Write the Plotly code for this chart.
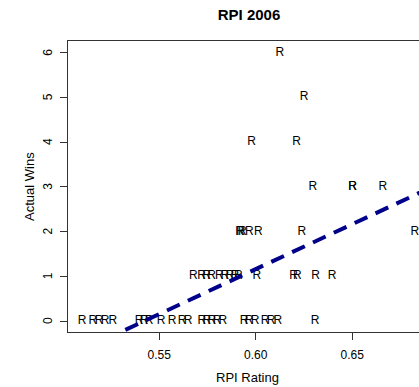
import plotly.graph_objects as go

# RPI rating of teams by number of tournament wins
rpi_wins0 = [0.5100, 0.5156, 0.5188, 0.5219, 0.5260, 0.5395, 0.5421, 0.5447,
             0.5509, 0.5566, 0.5618, 0.5649, 0.5721, 0.5747, 0.5773, 0.5799,
             0.5830, 0.5939, 0.5965, 0.5996, 0.6048, 0.6079, 0.6115, 0.6307]
rpi_wins1 = [0.5676, 0.5719, 0.5745, 0.5771, 0.5811, 0.5840, 0.5866, 0.5892,
             0.5910, 0.6006, 0.6196, 0.6216, 0.6310, 0.6395]
rpi_wins2 = [0.5916, 0.5921, 0.5931, 0.5967, 0.6014, 0.6239, 0.6825]
rpi_wins3 = [0.6296, 0.6502, 0.6502, 0.6658]
rpi_wins4 = [0.5979, 0.6212]
rpi_wins5 = [0.6250]
rpi_wins6 = [0.6125]

# fitted regression line: wins = intercept + slope * rpi
fit_intercept = -10.90
fit_slope = 20.1

x_ticks = [0.55, 0.60, 0.65]
x_tick_labels = ["0.55", "0.60", "0.65"]
y_ticks = [0, 1, 2, 3, 4, 5, 6]
y_tick_labels = ["0", "1", "2", "3", "4", "5", "6"]

groups = [rpi_wins0, rpi_wins1, rpi_wins2, rpi_wins3, rpi_wins4, rpi_wins5, rpi_wins6]
xs, ys = [], []
for w, g in enumerate(groups):
    xs += g
    ys += [w] * len(g)

fig = go.Figure()
fig.add_trace(go.Scatter(
    x=xs, y=ys, mode="text", text=["R"] * len(xs),
    textposition="middle center",
    textfont=dict(family="Liberation Sans, Arial, sans-serif", size=12, color="#000"),
    hoverinfo="skip", showlegend=False, cliponaxis=True))

line_x = [0.50, 0.70]
line_y = [fit_intercept + fit_slope * v for v in line_x]
fig.add_trace(go.Scatter(
    x=line_x, y=line_y, mode="lines",
    line=dict(color="#00008B", width=4, dash="14px,9px"),
    hoverinfo="skip", showlegend=False))

font_main = "Liberation Sans, Arial, sans-serif"

# rotated y tick labels (R style), placed on the y axis scale
ytick_annotations = [
    dict(text=lab, xref="paper", yref="y", x=(48 - 68) / 351, y=val,
         xanchor="center", yanchor="middle", textangle=-90, showarrow=False,
         font=dict(size=12, color="#000"))
    for val, lab in zip(y_ticks, y_tick_labels)
]

fig.update_layout(
    width=419, height=387,
    margin=dict(l=68, r=0, t=41, b=55),
    plot_bgcolor="white", paper_bgcolor="white",
    font=dict(family=font_main, color="#000"),
    title=dict(text="<b>RPI 2006</b>", x=249 / 419, xanchor="center",
               y=1 - 15 / 387, yanchor="middle", xref="container", yref="container",
               font=dict(size=15, color="#000", family=font_main)),
    xaxis=dict(range=[0.5027, 0.6846], tickvals=x_ticks, ticktext=x_tick_labels,
               ticks="outside", ticklen=7, tickcolor="#333", tickwidth=1,
               showgrid=False, zeroline=False, showline=True, linecolor="#333",
               linewidth=1, mirror=True, tickfont=dict(size=12, color="#000"),
               ticklabelstandoff=5),
    yaxis=dict(range=[-0.246, 6.26], tickvals=y_ticks, showticklabels=False,
               ticks="outside", ticklen=7, tickcolor="#333", tickwidth=1,
               showgrid=False, zeroline=False, showline=True, linecolor="#333",
               linewidth=1, mirror=False),
    annotations=ytick_annotations + [
        dict(text="RPI Rating", xref="paper", yref="paper",
             x=(248 - 68) / 351, y=(332 - 378) / 291, xanchor="center", yanchor="middle",
             showarrow=False, font=dict(size=13, color="#000")),
        dict(text="Actual Wins", xref="paper", yref="paper", textangle=-90,
             x=(29 - 68) / 351, y=(332 - 187) / 291, xanchor="center", yanchor="middle",
             showarrow=False, font=dict(size=13, color="#000")),
    ],
)

fig.write_html("out.html", config={"displayModeBar": False},
               post_script="document.body.style.margin='0';"
                           "document.body.style.overflow='hidden';")
